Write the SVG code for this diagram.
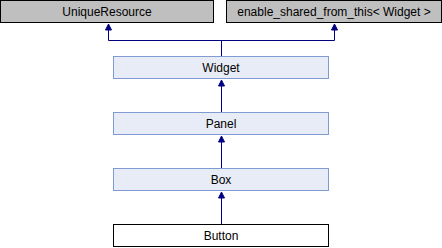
<svg xmlns="http://www.w3.org/2000/svg" width="442" height="248" viewBox="0 0 442 248">
<style>
.ext rect{fill:#BFBFBF;stroke:#000;stroke-width:1}
.cls rect{fill:#E8ECF6;stroke:#7F9CD2;stroke-width:1}
.cur rect{fill:#FFFFFF;stroke:#000;stroke-width:1}
text{font-family:"Liberation Sans",Arial,sans-serif;font-size:12px;text-anchor:middle;fill:#000}
.edge line,.edge polyline{stroke:#000080;stroke-width:1;fill:none}
.edge polygon{fill:#000080;stroke:#000080;stroke-width:1}
</style>
<rect width="442" height="248" fill="#FFFFFF"/>
<g id="connectors" class="edge">
<polyline points="108.5,30 108.5,40.5 334.5,40.5 334.5,30"/>
<line x1="221.5" y1="40.5" x2="221.5" y2="56"/>
<polygon points="108.5,24 105.5,30 111.5,30"/>
<polygon points="334.5,24 331.5,30 337.5,30"/>
<line x1="221.5" y1="86" x2="221.5" y2="112"/>
<polygon points="221.5,80 218.5,86 224.5,86"/>
<line x1="221.5" y1="142" x2="221.5" y2="168"/>
<polygon points="221.5,136 218.5,142 224.5,142"/>
<line x1="221.5" y1="198" x2="221.5" y2="224"/>
<polygon points="221.5,192 218.5,198 224.5,198"/>
</g>
<g id="UniqueResource" class="ext"><rect x="0.5" y="0.5" width="213" height="22"/><text x="107" y="16">UniqueResource</text></g>
<g id="enable_shared_from_this" class="ext"><rect x="226.5" y="0.5" width="215" height="22"/><text x="334" y="16">enable_shared_from_this&lt; Widget &gt;</text></g>
<g id="Widget" class="cls"><rect x="113.5" y="56.5" width="215" height="22"/><text x="221" y="72">Widget</text></g>
<g id="Panel" class="cls"><rect x="113.5" y="112.5" width="215" height="22"/><text x="221" y="128">Panel</text></g>
<g id="Box" class="cls"><rect x="113.5" y="168.5" width="215" height="22"/><text x="221" y="184">Box</text></g>
<g id="Button" class="cur"><rect x="113.5" y="224.5" width="215" height="22"/><text x="221" y="240">Button</text></g>
</svg>
